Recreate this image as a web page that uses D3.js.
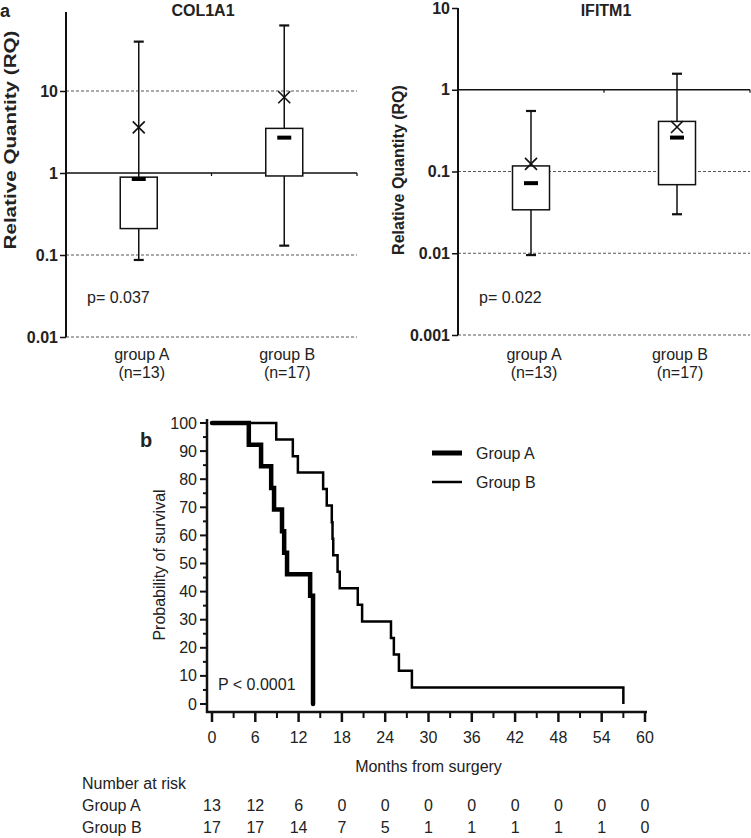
<!DOCTYPE html>
<html>
<head>
<meta charset="utf-8">
<script src="https://cdn.jsdelivr.net/npm/d3@7"></script>
<style>
  html, body { margin: 0; padding: 0; background: #fff; }
  svg { display: block; font-family: "Liberation Sans", Arial, Helvetica, sans-serif; }
</style>
</head>
<body>
<svg id="chart" width="751" height="838"></svg>
<script>
// ---------- DATA ----------
const groups = ["group A", "group B"];
const groupN = ["(n=13)", "(n=17)"];

// Panel a, COL1A1 (relative quantity, log scale)
const col1a1Min    = [0.087, 0.13];
const col1a1Q1     = [0.21, 0.92];
const col1a1Median = [0.845, 2.7];
const col1a1Q3     = [0.89, 3.5];
const col1a1Max    = [40, 63];
const col1a1Mean   = [3.6, 8.4];
const col1a1Ticks  = [0.01, 0.1, 1, 10];
const col1a1Grid   = [0.01, 0.1, 10];
const col1a1P      = "p= 0.037";

// Panel a, IFITM1
const ifitm1Min    = [0.0095, 0.03];
const ifitm1Q1     = [0.034, 0.069];
const ifitm1Median = [0.072, 0.26];
const ifitm1Q3     = [0.117, 0.41];
const ifitm1Max    = [0.55, 1.57];
const ifitm1Mean   = [0.124, 0.35];
const ifitm1Ticks  = [0.001, 0.01, 0.1, 1, 10];
const ifitm1Grid   = [0.001, 0.01, 0.1];
const ifitm1P      = "p= 0.022";

// Panel b, Kaplan-Meier
const groupATimes = [0, 5.1, 6.8, 8.2, 8.6, 9.7, 10.0, 10.4, 13.6, 14.0];
const groupASurv  = [100, 92.3, 84.6, 76.9, 69.2, 61.5, 53.8, 46.2, 38.5, 0];
const groupBTimes = [0, 8.9, 11.2, 11.9, 15.4, 15.9, 16.6, 16.7, 16.8, 17.4, 17.7, 20.2, 20.8, 24.8, 25.2, 25.9, 27.7, 57];
const groupBSurv  = [100, 94.1, 88.2, 82.4, 76.5, 70.6, 64.7, 58.8, 52.9, 47.1, 41.2, 35.3, 29.4, 23.5, 17.6, 11.8, 5.9, 0];
const kmXTicks = [0, 6, 12, 18, 24, 30, 36, 42, 48, 54, 60];
const kmXMinor = [3, 9, 15, 21, 27, 33, 39, 45, 51, 57];
const kmYTicks = [0, 10, 20, 30, 40, 50, 60, 70, 80, 90, 100];
const kmYMinor = [5, 15, 25, 35, 45, 55, 65, 75, 85, 95];
const riskTimes = [0, 6, 12, 18, 24, 30, 36, 42, 48, 54, 60];
const riskA = [13, 12, 6, 0, 0, 0, 0, 0, 0, 0, 0];
const riskB = [17, 17, 14, 7, 5, 1, 1, 1, 1, 1, 0];
const kmLegend = ["Group A", "Group B"];
const kmP = "P < 0.0001";

// ---------- DRAW ----------
const svg = d3.select("#chart");
const TXT = "#222";

function boxPanel(o) {
  const g = svg.append("g");
  const y = d3.scaleLog().domain(o.domain).range([o.bottom, o.top]);
  const x = d3.scaleBand().domain(groups).range([o.left, o.right]);

  // grid lines
  g.selectAll("line.grid").data(o.grid).join("line")
    .attr("x1", o.left).attr("x2", o.right)
    .attr("y1", d => y(d)).attr("y2", d => y(d))
    .attr("stroke", "#555").attr("stroke-width", 1).attr("stroke-dasharray", "3,2");
  // baseline at 1
  g.append("line").attr("x1", o.left).attr("x2", o.right)
    .attr("y1", y(1)).attr("y2", y(1)).attr("stroke", "#111").attr("stroke-width", 1.6);
  // category ticks on baseline
  g.selectAll("line.ctick").data([x(groups[1]), o.right]).join("line")
    .attr("x1", d => d).attr("x2", d => d)
    .attr("y1", y(1)).attr("y2", y(1) + 3).attr("stroke", "#111").attr("stroke-width", 1.2);

  // y axis
  const ax = d3.axisLeft(y).tickValues(o.ticks).tickFormat(d => String(d))
    .tickSize(6).tickSizeOuter(0).tickPadding(2);
  const ag = g.append("g").attr("transform", `translate(${o.left},0)`).call(ax);
  ag.select(".domain").attr("stroke", "#111").attr("stroke-width", 2)
    .attr("d", `M0,${o.axisTop}V${o.bottom}`);
  ag.selectAll(".tick line").attr("stroke", "#111").attr("stroke-width", 1.5);
  ag.selectAll(".tick text").attr("fill", TXT).attr("font-size", 16)
    .attr("font-weight", "bold").attr("font-family", "Liberation Sans, Arial, sans-serif");

  // boxes
  groups.forEach((grp, i) => {
    const cx = x(grp) + x.bandwidth() / 2;
    const bw = 37;
    // whisker
    g.append("line").attr("x1", cx).attr("x2", cx)
      .attr("y1", y(o.max[i])).attr("y2", y(o.min[i]))
      .attr("stroke", "#111").attr("stroke-width", 1.5);
    // caps
    [o.max[i], o.min[i]].forEach(v => {
      g.append("line").attr("x1", cx - 5).attr("x2", cx + 5)
        .attr("y1", y(v)).attr("y2", y(v)).attr("stroke", "#111").attr("stroke-width", 2.2);
    });
    // box
    g.append("rect").attr("x", cx - bw / 2).attr("width", bw)
      .attr("y", y(o.q3[i])).attr("height", y(o.q1[i]) - y(o.q3[i]))
      .attr("fill", "#fff").attr("stroke", "#111").attr("stroke-width", 1.5);
    // median
    g.append("line").attr("x1", cx - 7).attr("x2", cx + 7)
      .attr("y1", y(o.median[i])).attr("y2", y(o.median[i]))
      .attr("stroke", "#000").attr("stroke-width", 4);
    // mean X
    const my = y(o.mean[i]);
    g.append("path").attr("d", `M${cx - 6},${my - 6}L${cx + 6},${my + 6}M${cx - 6},${my + 6}L${cx + 6},${my - 6}`)
      .attr("stroke", "#111").attr("stroke-width", 1.6).attr("fill", "none");
    // category labels
    g.append("text").attr("x", cx + 3).attr("y", 360).attr("text-anchor", "middle")
      .attr("font-size", 16).attr("fill", TXT).text(grp);
    g.append("text").attr("x", cx + 3).attr("y", 378).attr("text-anchor", "middle")
      .attr("font-size", 16).attr("fill", TXT).text(groupN[i]);
  });

  // title
  g.append("text").attr("x", o.titleX).attr("y", 16).attr("text-anchor", "middle")
    .attr("font-size", 16).attr("font-weight", "bold").attr("fill", TXT).text(o.title);
  // y label
  const yl = g.append("text")
    .attr("transform", `translate(${o.labelX},${o.labelY}) rotate(-90)`)
    .attr("text-anchor", "middle").attr("font-size", 16).attr("font-weight", "bold")
    .attr("fill", TXT).text("Relative Quantity (RQ)");
  if (o.labelLen) yl.attr("textLength", o.labelLen).attr("lengthAdjust", "spacingAndGlyphs");
  // p value
  g.append("text").attr("x", o.pX).attr("y", 303).attr("font-size", 16)
    .attr("fill", TXT).text(o.p);
}

boxPanel({
  title: "COL1A1", titleX: 203,
  domain: [0.01, 100], top: 9, bottom: 337, axisTop: 12, left: 66, right: 357,
  ticks: col1a1Ticks, grid: col1a1Grid,
  min: col1a1Min, q1: col1a1Q1, median: col1a1Median, q3: col1a1Q3, max: col1a1Max, mean: col1a1Mean,
  labelX: 16, labelY: 140, labelLen: 219, p: col1a1P, pX: 87
});
boxPanel({
  title: "IFITM1", titleX: 606,
  domain: [0.001, 10], top: 8, bottom: 335, axisTop: 8, left: 458, right: 750,
  ticks: ifitm1Ticks, grid: ifitm1Grid,
  min: ifitm1Min, q1: ifitm1Q1, median: ifitm1Median, q3: ifitm1Q3, max: ifitm1Max, mean: ifitm1Mean,
  labelX: 404, labelY: 170, labelLen: null, p: ifitm1P, pX: 479
});

// panel letters
svg.append("text").attr("x", 0).attr("y", 17).attr("font-size", 18).attr("font-weight", "bold")
  .attr("fill", TXT).text("a");
svg.append("text").attr("x", 140).attr("y", 447).attr("font-size", 20).attr("font-weight", "bold")
  .attr("fill", TXT).text("b");

// ---------- Kaplan-Meier ----------
const km = svg.append("g");
const kx = d3.scaleLinear().domain([0, 60]).range([212, 645]);
const ky = d3.scaleLinear().domain([0, 100]).range([704, 423]);
const axX = 207, axY = 712;

// axes lines
km.append("line").attr("x1", axX).attr("x2", axX).attr("y1", 419).attr("y2", axY + 1)
  .attr("stroke", "#111").attr("stroke-width", 2.5);
km.append("line").attr("x1", axX - 1).attr("x2", kx(60) + 2).attr("y1", axY).attr("y2", axY)
  .attr("stroke", "#111").attr("stroke-width", 2.5);

// y ticks
km.selectAll("line.ymaj").data(kmYTicks).join("line")
  .attr("x1", axX - 7).attr("x2", axX).attr("y1", d => ky(d)).attr("y2", d => ky(d))
  .attr("stroke", "#111").attr("stroke-width", 2);
km.selectAll("line.ymin").data(kmYMinor).join("line")
  .attr("x1", axX - 4).attr("x2", axX).attr("y1", d => ky(d)).attr("y2", d => ky(d))
  .attr("stroke", "#111").attr("stroke-width", 2);
km.selectAll("text.yl").data(kmYTicks).join("text")
  .attr("x", axX - 10).attr("y", d => ky(d) + 5.5).attr("text-anchor", "end")
  .attr("font-size", 16).attr("fill", TXT).text(d => d);

// x ticks
km.selectAll("line.xmaj").data(kmXTicks).join("line")
  .attr("x1", d => kx(d)).attr("x2", d => kx(d)).attr("y1", axY).attr("y2", axY + 10)
  .attr("stroke", "#111").attr("stroke-width", 2.5);
km.selectAll("line.xmin").data(kmXMinor).join("line")
  .attr("x1", d => kx(d)).attr("x2", d => kx(d)).attr("y1", axY).attr("y2", axY + 6)
  .attr("stroke", "#111").attr("stroke-width", 2);
km.selectAll("text.xl").data(kmXTicks).join("text")
  .attr("x", d => kx(d)).attr("y", 743).attr("text-anchor", "middle")
  .attr("font-size", 16).attr("fill", TXT).text(d => d);

km.append("text").attr("x", (kx(0) + kx(60)) / 2).attr("y", 772).attr("text-anchor", "middle")
  .attr("font-size", 16).attr("fill", TXT).text("Months from surgery");
km.append("text").attr("transform", `translate(165,565) rotate(-90)`).attr("text-anchor", "middle")
  .attr("font-size", 16).attr("fill", TXT).text("Probability of survival");

// curves
const stepLine = d3.line().x(d => kx(d[0])).y(d => ky(d[1])).curve(d3.curveStepAfter);
km.append("path").datum(d3.zip(groupBTimes, groupBSurv)).attr("d", stepLine)
  .attr("fill", "none").attr("stroke", "#000").attr("stroke-width", 2.5);
km.append("path").datum(d3.zip(groupATimes, groupASurv)).attr("d", stepLine)
  .attr("fill", "none").attr("stroke", "#000").attr("stroke-width", 4.5)
  .attr("stroke-linecap", "round");

// legend
const legW = [5, 2.5];
kmLegend.forEach((name, i) => {
  const ly = 453 + i * 29;
  km.append("line").attr("x1", 432).attr("x2", 462).attr("y1", ly).attr("y2", ly)
    .attr("stroke", "#000").attr("stroke-width", legW[i]);
  km.append("text").attr("x", 476).attr("y", ly + 6).attr("font-size", 16)
    .attr("fill", TXT).text(name);
});

// p value
km.append("text").attr("x", 218).attr("y", 690).attr("font-size", 16).attr("fill", TXT).text(kmP);

// number at risk
km.append("text").attr("x", 82).attr("y", 789).attr("font-size", 16).attr("fill", TXT).text("Number at risk");
km.append("text").attr("x", 82).attr("y", 811).attr("font-size", 16).attr("fill", TXT).text(kmLegend[0]);
km.append("text").attr("x", 82).attr("y", 833).attr("font-size", 16).attr("fill", TXT).text(kmLegend[1]);
km.selectAll("text.ra").data(d3.zip(riskTimes, riskA)).join("text")
  .attr("x", d => kx(d[0])).attr("y", 811).attr("text-anchor", "middle")
  .attr("font-size", 16).attr("fill", TXT).text(d => d[1]);
km.selectAll("text.rb").data(d3.zip(riskTimes, riskB)).join("text")
  .attr("x", d => kx(d[0])).attr("y", 833).attr("text-anchor", "middle")
  .attr("font-size", 16).attr("fill", TXT).text(d => d[1]);
</script>
</body>
</html>
